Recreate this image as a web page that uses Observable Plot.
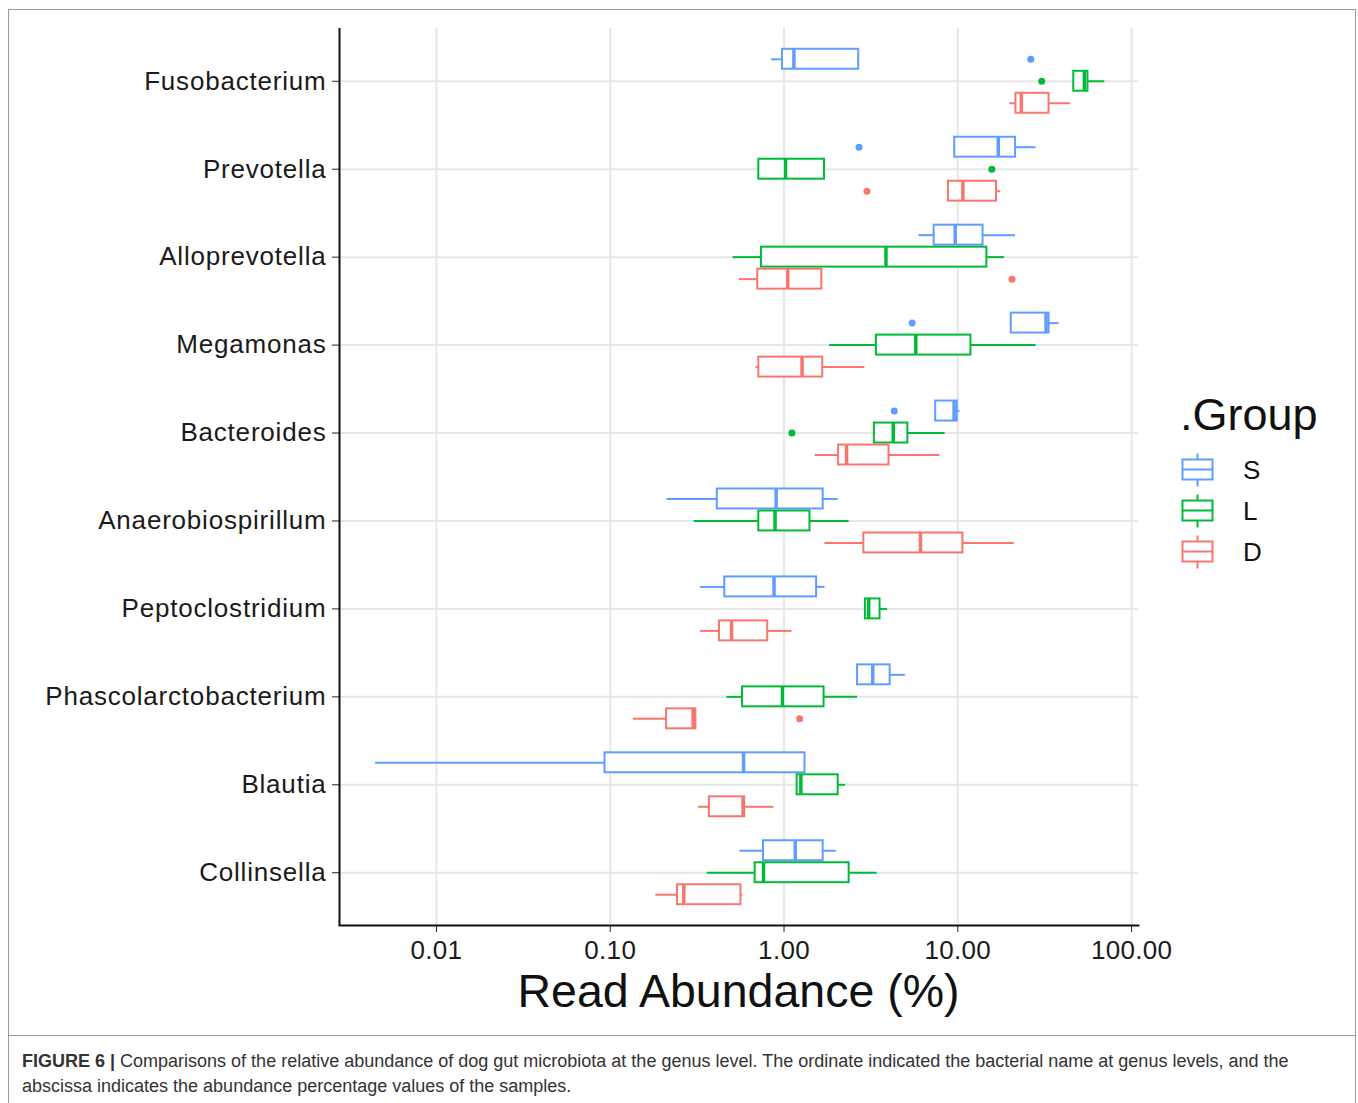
<!DOCTYPE html>
<html><head><meta charset="utf-8">
<script src="https://cdn.jsdelivr.net/npm/d3@7"></script>
<script src="https://cdn.jsdelivr.net/npm/@observablehq/plot@0.6"></script>
<style>
body{margin:0;background:#fff;font-family:"Liberation Sans",Arial,Helvetica,sans-serif;}
#wrap{position:relative;width:1358px;height:1103px;overflow:hidden;background:#fff;}
#frame{position:absolute;left:8px;top:9px;width:1348px;height:1027px;border:1px solid #9a9a9a;box-sizing:border-box;}
#capframe{position:absolute;left:8px;top:1035px;width:1348px;height:90px;border-left:1px solid #9a9a9a;border-right:1px solid #9a9a9a;box-sizing:border-box;}
#chart{position:absolute;left:0;top:0;}
#xlabel{position:absolute;left:339px;width:799px;top:968px;text-align:center;font-size:46.5px;color:#111;line-height:1;}
#legend{position:absolute;left:1160px;top:370px;}
#caption{position:absolute;left:22px;top:1049px;font-size:18px;color:#333;line-height:25px;white-space:nowrap;}
g[aria-label="y-axis tick label"] text{letter-spacing:0.8px;}
g[aria-label="x-axis tick label"] text{letter-spacing:0.3px;}
</style></head>
<body>
<div id="wrap">
  <div id="frame"></div>
  <div id="capframe"></div>
  <div id="chart"></div>
  <div id="xlabel">Read Abundance (%)</div>
  <div id="legend"></div>
  <div id="caption"><b>FIGURE 6 |</b> Comparisons of the relative abundance of dog gut microbiota at the genus level. The ordinate indicated the bacterial name at genus levels, and the<br>abscissa indicates the abundance percentage values of the samples.</div>
</div>
<script>
// ---- data ----
const genera = ["Fusobacterium","Prevotella","Alloprevotella","Megamonas","Bacteroides","Anaerobiospirillum","Peptoclostridium","Phascolarctobacterium","Blautia","Collinsella"];
const groups = ["S","L","D"];
const groupColors = ["#619CFF","#00BA38","#F8766D"];
const xTicks = [0.01, 0.1, 1, 10, 100];

// group S
const lowS  = [0.85, 9.6, 5.98, 20.3, 7.46, 0.212, 0.331, 2.61, 0.00446, 0.557];
const q1S   = [0.98, 9.6, 7.31, 20.3, 7.46, 0.413, 0.456, 2.65, 0.0933, 0.762];
const medS  = [1.14, 17.1, 9.66, 32.2, 9.52, 0.901, 0.876, 3.24, 0.585, 1.16];
const q3S   = [2.69, 21.5, 13.97, 33.5, 9.93, 1.68, 1.54, 4.08, 1.32, 1.68];
const highS = [2.69, 28.2, 21.5, 38.3, 10.3, 2.05, 1.72, 4.99, 1.32, 2.00];
// group L
const lowL  = [46.5, 0.716, 0.509, 1.83, 3.31, 0.304, 2.94, 0.469, 1.19, 0.362];
const q1L   = [46.5, 0.716, 0.741, 3.40, 3.31, 0.716, 2.94, 0.577, 1.19, 0.682];
const medL  = [53.5, 1.02, 3.86, 5.73, 4.25, 0.888, 3.07, 0.98, 1.25, 0.762];
const q3L   = [56.1, 1.71, 14.7, 11.9, 5.16, 1.41, 3.57, 1.70, 2.05, 2.37];
const highL = [70.1, 1.71, 18.6, 28.2, 8.46, 2.37, 3.94, 2.65, 2.26, 3.43];
// group D
const lowD  = [19.9, 8.83, 0.554, 0.69, 1.51, 1.72, 0.331, 0.136, 0.322, 0.183];
const q1D   = [21.6, 8.83, 0.706, 0.716, 2.06, 2.88, 0.425, 0.211, 0.372, 0.244];
const medD  = [23.2, 10.7, 1.05, 1.27, 2.29, 6.10, 0.499, 0.300, 0.581, 0.265];
const q3D   = [33.5, 16.7, 1.65, 1.67, 4.02, 10.7, 0.806, 0.311, 0.593, 0.565];
const highD = [44.6, 17.7, 1.65, 2.92, 7.89, 21.1, 1.11, 0.311, 0.876, 0.58];

// outliers
const outGenus = ["Fusobacterium","Fusobacterium","Prevotella","Prevotella","Prevotella","Alloprevotella","Megamonas","Bacteroides","Bacteroides","Phascolarctobacterium"];
const outGroup = ["S","L","S","L","D","D","S","S","L","D"];
const outValue = [26.3, 30.4, 2.70, 15.7, 3.0, 20.5, 5.46, 4.31, 1.11, 1.23];

// ---- build tables ----
const statArrays = {S:[lowS,q1S,medS,q3S,highS], L:[lowL,q1L,medL,q3L,highL], D:[lowD,q1D,medD,q3D,highD]};
const rows = [];
for (const g of groups) {
  const [lo,q1,me,q3,hi] = statArrays[g];
  genera.forEach((name,i)=>rows.push({genus:name, group:g, lo:lo[i], q1:q1[i], med:me[i], q3:q3[i], hi:hi[i]}));
}
const outliers = outGenus.map((name,i)=>({genus:name, group:outGroup[i], value:outValue[i]}));
const offset = {S:-22, L:0, D:22};

const xDomain = [0.002767, 109.6];
const inset = 34;
const marks = [
  Plot.gridX({ticks: xTicks, stroke:"#e6e6e6", strokeOpacity:1, strokeWidth:2}),
  Plot.gridY({stroke:"#e6e6e6", strokeOpacity:1, strokeWidth:2}),
];
for (const g of groups) {
  const r = rows.filter(d=>d.group===g);
  const dy = offset[g];
  marks.push(
    Plot.ruleY(r.filter(d=>d.lo<d.q1), {x1:"lo", x2:"q1", y:"genus", dy, stroke:"group", strokeWidth:2}),
    Plot.ruleY(r.filter(d=>d.hi>d.q3), {x1:"q3", x2:"hi", y:"genus", dy, stroke:"group", strokeWidth:2}),
    Plot.barX(r, {x1:"q1", x2:"q3", y:"genus", dy, insetTop:inset, insetBottom:inset, fill:"white", stroke:"group", strokeWidth:2}),
    Plot.tickX(r, {x:"med", y:"genus", dy, insetTop:inset, insetBottom:inset, stroke:"group", strokeWidth:3.5}),
    Plot.dot(outliers.filter(d=>d.group===g), {x:"value", y:"genus", dy, r:3.5, fill:"group", stroke:"none"})
  );
}
marks.push(
  Plot.axisX({ticks:xTicks, tickFormat:d3.format(".2f"), fontSize:26, tickSize:7, tickPadding:8, label:null, stroke:"#222"}),
  Plot.axisY({tickSize:7, tickPadding:6, fontSize:26, label:null, stroke:"#222"}),
  Plot.ruleX([xDomain[0]], {stroke:"#111", strokeWidth:2}),
  Plot.frame({anchor:"bottom", stroke:"#111", strokeWidth:2})
);

const chart = Plot.plot({
  width:1358, height:1035,
  marginLeft:339, marginRight:220, marginTop:28, marginBottom:110,
  x:{type:"log", domain:xDomain},
  y:{type:"band", domain:genera, paddingInner:0, paddingOuter:0.1, round:false},
  color:{domain:groups, range:groupColors},
  style:{fontFamily:'"Liberation Sans", Arial, sans-serif', color:"#1a1a1a", background:"transparent", overflow:"visible"},
  marks
});
document.getElementById("chart").appendChild(chart);

// ---- legend ----
const lg = d3.select("#legend").append("svg").attr("width",190).attr("height",210)
  .style("font-family",'"Liberation Sans", Arial, sans-serif');
lg.append("text").attr("x",20).attr("y",60).attr("font-size",45).attr("fill","#111").text(".Group");
groups.forEach((g,i)=>{
  const cy = 99.5 + i*41, cx = 37.5, c = groupColors[i];
  const k = lg.append("g").attr("stroke",c).attr("fill","none").attr("stroke-width",2);
  k.append("line").attr("x1",cx).attr("x2",cx).attr("y1",cy-16).attr("y2",cy+17);
  k.append("rect").attr("x",cx-15).attr("y",cy-10).attr("width",30).attr("height",20).attr("fill","white");
  k.append("line").attr("x1",cx-15).attr("x2",cx+15).attr("y1",cy).attr("y2",cy);
  lg.append("text").attr("x",83).attr("y",cy).attr("dy","0.36em").attr("font-size",26).attr("fill","#111").text(g);
});
</script>
</body></html>
